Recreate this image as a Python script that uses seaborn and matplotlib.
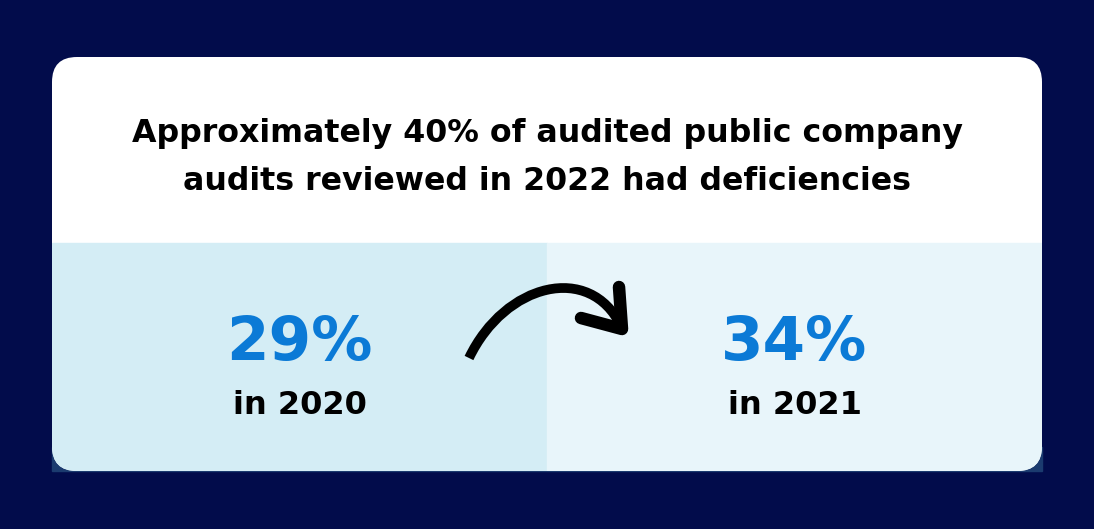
import matplotlib
matplotlib.use("Agg")
import matplotlib.pyplot as plt
import seaborn as sns
from matplotlib.patches import FancyBboxPatch, Rectangle, PathPatch
from matplotlib.path import Path

# data
title_lines = ["Approximately 40% of audited public company",
               "audits reviewed in 2022 had deficiencies"]
years = [2020, 2021]
pct_deficient = [29, 34]
panel_colors = ["#D4EDF5", "#E8F5FA"]

sns.set_theme(style="white")
plt.rcParams['font.family'] = ['DejaVu Sans']

W, H = 1094, 529
fig = plt.figure(figsize=(W / 100, H / 100), dpi=100, facecolor="#020C4B")
ax = fig.add_axes([0, 0, 1, 1])
ax.set_xlim(0, W)
ax.set_ylim(H, 0)
ax.axis("off")

# card geometry
x0, x1, y0, y1, ytop = 52, 1042, 57, 471, 243
xmid = (x0 + x1) / 2

# the lighter bit that peeks out under the bottom corners
ax.add_patch(Rectangle((x0, 447), x1 - x0, y1 - 447, color="#1B3B6F", zorder=1))

card = FancyBboxPatch((x0, y0), x1 - x0, y1 - y0,
                      boxstyle="round,pad=0,rounding_size=25",
                      facecolor="white", edgecolor="none", zorder=2)
ax.add_patch(card)

# two year panels, clipped to the rounded card
pw = (x1 - x0) / len(years)
for i, (yr, p) in enumerate(zip(years, pct_deficient)):
    px = x0 + i * pw
    r = Rectangle((px, ytop), pw, y1 - ytop, color=panel_colors[i], zorder=3)
    ax.add_patch(r)
    r.set_clip_path(card)
    cx = px + pw / 2
    ax.text(cx, 360, f"{p}%", ha="center", va="baseline", fontsize=44,
            fontweight="bold", color="#0B7AD6", zorder=5)
    ax.text(cx, 414, f"in {yr}", ha="center", va="baseline", fontsize=23,
            fontweight="bold", color="black", zorder=5)

# title
ax.text(xmid, 142, title_lines[0], ha="center", va="baseline", fontsize=22.8,
        fontweight="bold", color="black", zorder=5)
ax.text(xmid, 190, title_lines[1], ha="center", va="baseline", fontsize=22.8,
        fontweight="bold", color="black", zorder=5)

# curved arrow
curve = Path([(469, 358), (505, 283), (590, 262), (621, 326)],
             [Path.MOVETO, Path.CURVE4, Path.CURVE4, Path.CURVE4])
ax.add_patch(PathPatch(curve, facecolor="none", edgecolor="black", lw=7,
                       capstyle="butt", zorder=6))
head = Path([(619, 287), (622, 329), (581, 318)],
            [Path.MOVETO, Path.LINETO, Path.LINETO])
ax.add_patch(PathPatch(head, facecolor="none", edgecolor="black", lw=9,
                       capstyle="round", joinstyle="round", zorder=6))

fig.savefig("out.png", dpi=100, facecolor=fig.get_facecolor())
